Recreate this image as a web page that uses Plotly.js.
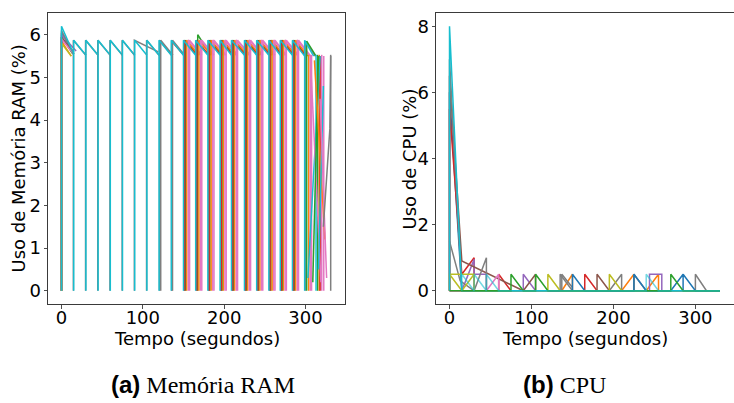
<!DOCTYPE html>
<html>
<head>
<meta charset="utf-8">
<script src="https://cdn.plot.ly/plotly-3.0.1.min.js"></script>
<style>html,body{margin:0;padding:0;background:#fff;}#chart{width:734px;height:403px;}</style>
</head>
<body>
<div id="chart"></div>
<script>
// ---------- DATA ----------
// RAM (%) : regular sawtooth series  -> points (start,0) (start,peak) (end,low)
const ramStart = [0,0,0,0,0,0,0,0,0,0,
  14.6,15, 29.6,30, 44.6,45, 59.6,60, 74.6,75, 89.6,90, 104.6,105, 120.5,122,120, 135.5,136.5,135,
  151,152.5,151.5,154,156,157.5,150,
  166,167.5,166.5,169,171,172.5,165,
  181,182.5,181.5,184,186,187.5,180,
  196,197.5,196.5,199,201,202.5,195,
  210,211.5,210.5,213,215,216.5,209,
  226,227.5,226.5,229,231,232.5,225,
  241,242.5,241.5,244,246,247.5,240,
  256,257.5,256.5,259,261,262.5,255,
  270,271.5,270.5,273,275,276.5,269,
  285,286.5,285.5,288,290,291.5,284,
  300,301.5,299, 304,306,307.5,
  315,317,318,320,322.5,313,331];
const ramPeak = [6.05,5.85,5.95,5.9,6.0,5.95,5.9,6.1,5.8,6.2,
  5.87,5.87, 5.87,5.87, 5.87,5.87, 5.87,5.87, 5.87,5.87, 5.87,5.87, 5.87,5.87, 5.87,5.87,5.87, 5.85,5.87,5.87,
  5.87,5.87,5.86,5.87,5.88,5.87,5.87,
  5.87,6.0,5.86,5.87,5.88,5.87,5.87,
  5.87,5.87,5.86,5.87,5.88,5.87,5.87,
  5.87,5.87,5.86,5.87,5.88,5.87,5.87,
  5.87,5.87,5.86,5.87,5.88,5.87,5.87,
  5.87,5.87,5.86,5.87,5.88,5.87,5.87,
  5.87,5.87,5.86,5.87,5.88,5.87,5.87,
  5.87,5.87,5.86,5.87,5.88,5.87,5.87,
  5.87,5.87,5.86,5.87,5.88,5.87,5.87,
  5.87,5.87,5.86,5.87,5.88,5.87,5.87,
  5.85,5.85,5.87, 5.53,5.53,5.53,
  5.53,5.53,5.5,5.53,5.5,5.53,5.53];
const ramEnd = [15,12,14,15,18,15,14,15,12,15,
  30,30, 45,45, 60,60, 75,75, 90,90, 119,105, 120,120, 135.5,137,135, 150.5,151.5,150,
  166,167.5,166.5,169,171,172.5,165,
  181,182.5,181.5,184,186,187.5,180,
  196,197.5,196.5,199,201,202.5,195,
  210,211.5,210.5,213,215,216.5,209,
  226,227.5,226.5,229,231,232.5,225,
  241,242.5,241.5,244,246,247.5,240,
  256,257.5,256.5,259,261,262.5,255,
  270,271.5,270.5,273,275,276.5,269,
  285,286.5,285.5,288,290,291.5,284,
  300,301.5,300.5,303,305,306.5,299,
  312,313,310, 304,306,307.5,
  315,317,318,320,322.5,313,331];
const ramLow = [5.55,5.5,5.55,5.6,5.62,5.55,5.57,5.55,5.5,5.55,
  5.52,5.52, 5.52,5.52, 5.52,5.52, 5.52,5.52, 5.52,5.52, 5.6,5.52, 5.52,5.52, 5.52,5.52,5.52, 5.52,5.52,5.52,
  5.52,5.52,5.52,5.52,5.52,5.52,5.52,
  5.52,5.55,5.52,5.52,5.52,5.52,5.52,
  5.52,5.52,5.52,5.52,5.52,5.52,5.52,
  5.52,5.52,5.52,5.52,5.52,5.52,5.52,
  5.52,5.52,5.52,5.52,5.52,5.52,5.52,
  5.52,5.52,5.52,5.52,5.52,5.52,5.52,
  5.52,5.52,5.52,5.52,5.52,5.52,5.52,
  5.52,5.52,5.52,5.52,5.52,5.52,5.52,
  5.52,5.52,5.52,5.52,5.52,5.52,5.52,
  5.5,5.5,5.5,5.5,5.5,5.5,5.5,
  5.5,5.5,5.5, 5.53,5.53,5.53,
  5.53,5.53,5.5,5.53,5.5,5.53,5.53];
// RAM irregular tail series (explicit points)
const ramTailX = [[303,318],[306,319],[309,316],[311,324],[316,322],[318,326],[322,330,331]];
const ramTailY = [[0.3,5.5],[5.5,0.2],[0.2,5.5],[5.4,1.2],[0.5,4.8],[4.5,0.3],[1.5,3.8,5.5]];

// CPU (%) series (explicit points)
const cpuX = [
  [0,0,15,330],
  [0,137,150,150,210,225,225,240,255,255,330],
  [0,0,15,30,30,60,60,75,165,165,180,330],
  [0,15,30,30,45,45,90,90,105,244,244,259,259,330],
  [0,0,15,90,105,105,180,180,195,330],
  [0,15,45,60,60,330],
  [0,0,15,330],
  [0,13,30,45,45,135,135,150,195,210,210,225,225,240,300,300,313.5,330],
  [137,137,150],
  [0,15,30],
  [0,0,30,30,120,120,135,195,195,210,330],
  [150,150,165,225,225,240,270,285,285,285,300,330],
  [0,0,15,330],
  [0,75,75,90,105,105,120,270,270,285,330],
  [15,15,30,30,45,45,60,240,240,255,330]
];
const cpuY = [
  [0,6.0,0,0],
  [0,0,0.5,0,0,0.5,0,0,0.5,0,0],
  [0,5.5,0.5,1.0,0,0,0.5,0,0,0.5,0,0],
  [0,0,0.95,0.5,0.5,0,0,0.5,0,0,0.5,0.5,0,0],
  [0,6.5,0.9,0,0.5,0,0,0.5,0,0],
  [0,0,0,0.5,0,0],
  [0,7.0,0,0],
  [1.5,0.3,0,1.0,0,0,0.5,0,0,0.5,0,0,0.5,0,0,0.5,0,0],
  [0,0.5,0.1],
  [0.5,0,0.5],
  [0,0.5,0.5,0,0,0.5,0,0,0.5,0,0],
  [0,0.5,0,0,0.5,0,0,0.5,0,0.5,0,0],
  [0,8.0,0,0],
  [0,0,0.5,0,0,0.5,0,0,0.5,0,0],
  [0,0.5,0,0.5,0,0.5,0,0,0.5,0,0]
];

// ---------- STYLE ----------
const tab10 = ['#1f77b4','#ff7f0e','#2ca02c','#d62728','#9467bd','#8c564b','#e377c2','#7f7f7f','#bcbd22','#17becf'];
const ramColor = [0,1,2,3,4,5,6,7,8,9,
  7,9, 7,9, 7,9, 7,9, 7,9, 7,9, 7,9, 7,7,9, 3,7,9,
  7,2,3,1,6,6,9, 7,2,3,1,6,6,9, 7,2,3,1,6,6,9, 7,2,3,1,6,6,9, 7,2,3,1,6,6,9,
  7,2,3,1,6,6,9, 7,2,3,1,6,6,9, 7,2,3,1,6,6,9, 7,2,3,1,6,6,9, 7,2,3,1,6,6,9,
  7,2,9, 1,6,6,
  2,1,3,6,6,9,7];
const ramTailColor = [9,6,2,1,9,6,7];
const cpuColor = [0,1,3,4,5,6,7,7,7,8,8,0,9,2,9];
const cpuOpacity = [1,1,1,1,1,1,1,1,1,1,1,1,1,1,0.6];
const LW = 1.5;

const traces = [];
ramStart.forEach((s,i)=>{
  traces.push({x:[s,s,ramEnd[i]], y:[0,ramPeak[i],ramLow[i]], mode:'lines', type:'scatter',
    line:{color:tab10[ramColor[i]], width:LW}, xaxis:'x', yaxis:'y', hoverinfo:'skip'});
});
ramTailX.forEach((xs,i)=>{
  traces.push({x:xs, y:ramTailY[i], mode:'lines', type:'scatter',
    line:{color:tab10[ramTailColor[i]], width:LW}, xaxis:'x', yaxis:'y', hoverinfo:'skip'});
});
cpuX.forEach((xs,i)=>{
  traces.push({x:xs, y:cpuY[i], mode:'lines', type:'scatter', opacity:cpuOpacity[i],
    line:{color:tab10[cpuColor[i]], width:LW}, xaxis:'x2', yaxis:'y2', hoverinfo:'skip'});
});

const W = 734, H = 403;
const font = {family:'DejaVu Sans', size:18, color:'#000'};
const axBase = {showgrid:false, zeroline:false, showline:true, mirror:true, linecolor:'#3a3a3a', linewidth:1,
  ticks:'outside', ticklen:3.5, tickwidth:0.8, tickcolor:'#222', tickfont:font, fixedrange:true};

const layout = {
  width:W, height:H, showlegend:false, paper_bgcolor:'#fff', plot_bgcolor:'#fff',
  margin:{l:0, r:0, t:13, b:99},
  xaxis:Object.assign({}, axBase, {domain:[48/W, 345/W], range:[-16.6,348.6], tickvals:[0,100,200,300], anchor:'y', ticklabelstandoff:-6}),
  yaxis:Object.assign({}, axBase, {domain:[0,1], range:[-0.31,6.51], tickvals:[0,1,2,3,4,5,6], anchor:'x', ticklabelstandoff:-1}),
  xaxis2:Object.assign({}, axBase, {domain:[436/W, 733.5/W], range:[-16.5,346.5], tickvals:[0,100,200,300], anchor:'y2', ticklabelstandoff:-6}),
  yaxis2:Object.assign({}, axBase, {domain:[0,1], range:[-0.4,8.4], tickvals:[0,2,4,6,8], anchor:'x2', ticklabelstandoff:-1}),
  annotations:[
    {text:'Tempo (segundos)', xref:'paper', yref:'paper', x:196.5/W, y:1-(338-13)/291, xanchor:'center', yanchor:'middle', showarrow:false, font:font},
    {text:'Tempo (segundos)', xref:'paper', yref:'paper', x:585/W, y:1-(338-13)/291, xanchor:'center', yanchor:'middle', showarrow:false, font:font},
    {text:'Uso de Memória RAM (%)', xref:'paper', yref:'paper', x:18/W, y:0.5, xanchor:'center', yanchor:'middle', textangle:-90, showarrow:false, font:font},
    {text:'Uso de CPU (%)', xref:'paper', yref:'paper', x:409/W, y:0.5, xanchor:'center', yanchor:'middle', textangle:-90, showarrow:false, font:font},
    {text:'<b><span style="font-family:Liberation Sans">(a)</span></b> <span style="font-family:Liberation Serif">Memória RAM</span>', xref:'paper', yref:'paper', x:203/W, y:1-(385-13)/291, xanchor:'center', yanchor:'middle', showarrow:false, font:{family:'Liberation Serif', size:24, color:'#000'}},
    {text:'<b><span style="font-family:Liberation Sans">(b)</span></b> <span style="font-family:Liberation Serif">CPU</span>', xref:'paper', yref:'paper', x:564/W, y:1-(385-13)/291, xanchor:'center', yanchor:'middle', showarrow:false, font:{family:'Liberation Serif', size:24, color:'#000'}}
  ]
};

Plotly.newPlot('chart', traces, layout, {staticPlot:true, displayModeBar:false});
</script>
</body>
</html>
